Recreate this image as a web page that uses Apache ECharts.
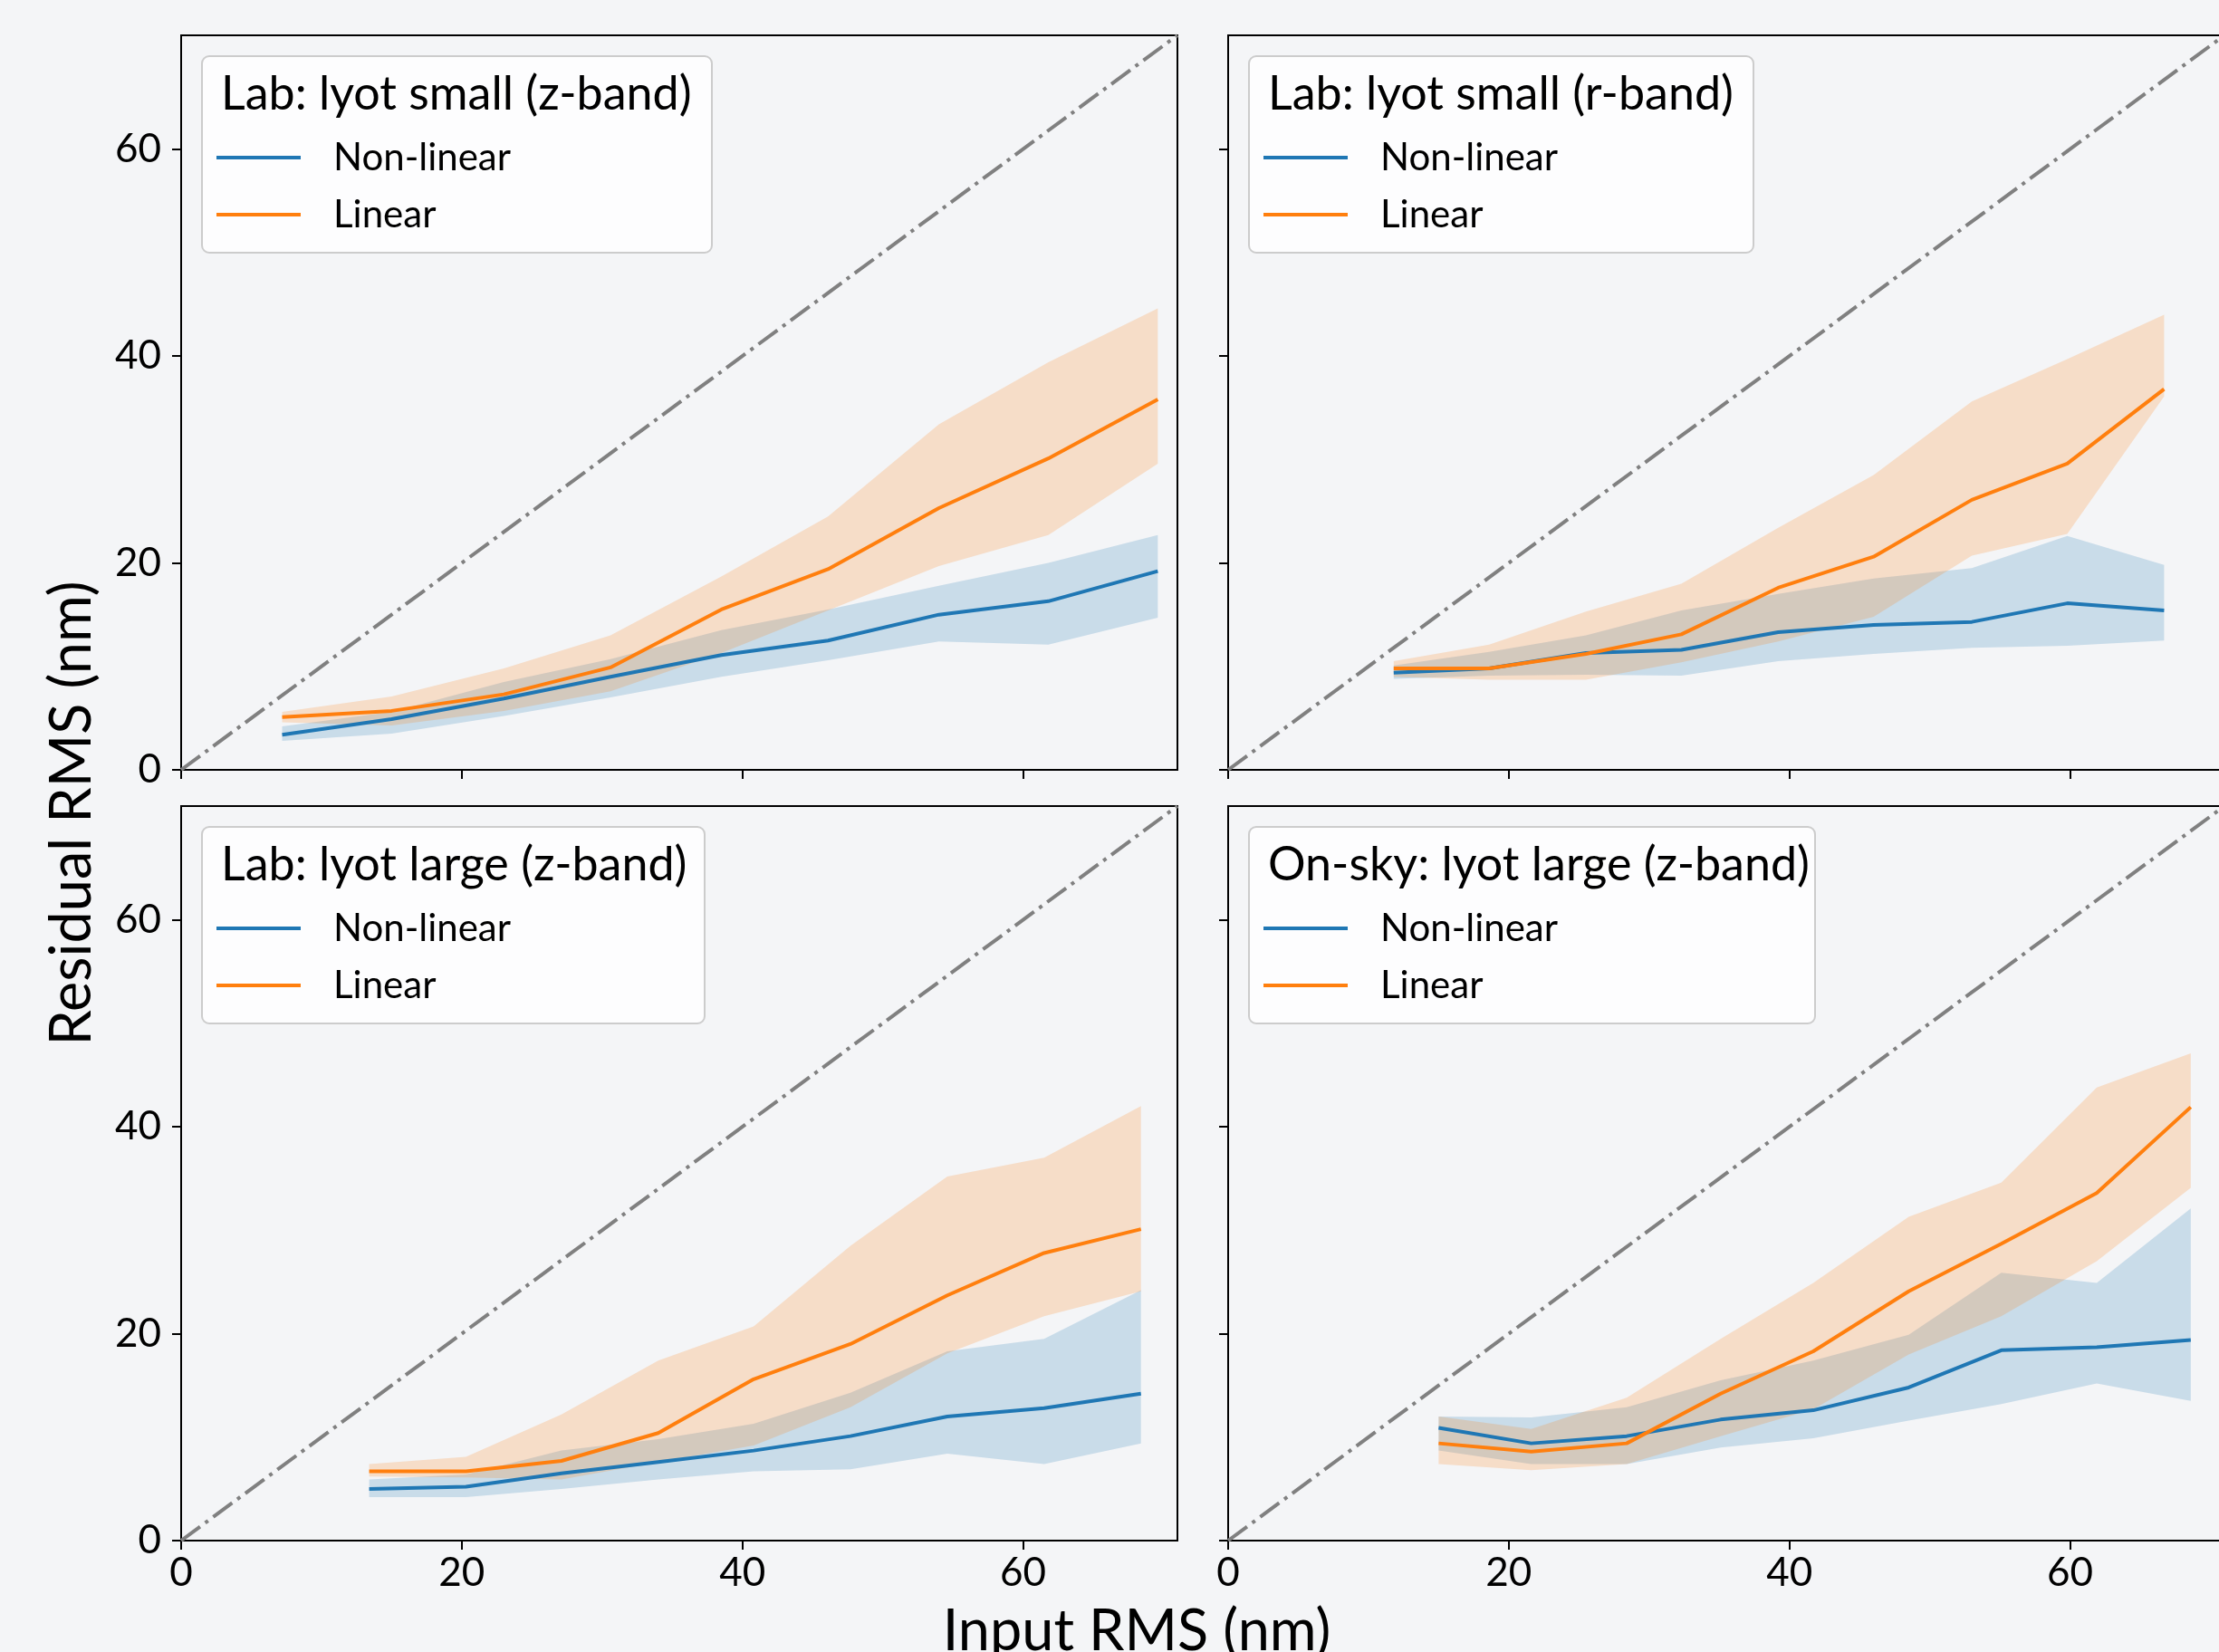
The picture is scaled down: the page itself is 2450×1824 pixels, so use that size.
<!DOCTYPE html>
<html>
<head>
<meta charset="utf-8">
<script src="https://cdn.jsdelivr.net/npm/echarts@6/dist/echarts.min.js"></script>
<style>
  html, body { margin: 0; padding: 0; background: #f4f5f7; }
  #chart { width: 2450px; height: 1824px; }
</style>
</head>
<body>
<div id="chart"></div>
<script>
// ---- data (nm) ----
const tickValues = [0, 20, 40, 60];
const panelTitles = ['Lab: lyot small (z-band)', 'Lab: lyot small (r-band)', 'Lab: lyot large (z-band)', 'On-sky: lyot large (z-band)'];
const seriesNames = ['Non-linear', 'Linear'];

// top left
const xA = [7.2, 15.0, 23.0, 30.6, 38.5, 46.1, 54.0, 61.8, 69.6];
const nonlinA = [3.4, 4.9, 6.9, 9.0, 11.1, 12.5, 15.0, 16.3, 19.2];
const nonlinA_hi = [4.2, 5.6, 8.5, 10.7, 13.5, 15.5, 17.8, 20.0, 22.7];
const nonlinA_lo = [2.8, 3.5, 5.2, 7.0, 9.0, 10.6, 12.4, 12.1, 14.7];
const linA = [5.1, 5.7, 7.3, 9.9, 15.5, 19.4, 25.3, 30.1, 35.8];
const linA_hi = [5.6, 7.1, 9.8, 13.0, 18.7, 24.5, 33.4, 39.4, 44.6];
const linA_lo = [4.6, 4.3, 5.7, 7.6, 11.3, 15.4, 19.7, 22.7, 29.6];

// top right
const xB = [11.8, 18.6, 25.5, 32.3, 39.2, 46.0, 53.0, 59.8, 66.7];
const nonlinB = [9.4, 9.8, 11.3, 11.6, 13.3, 14.0, 14.3, 16.1, 15.4];
const nonlinB_hi = [10.1, 11.4, 13.0, 15.4, 17.0, 18.5, 19.5, 22.6, 19.8];
const nonlinB_lo = [8.8, 9.1, 9.2, 9.1, 10.5, 11.2, 11.8, 12.0, 12.5];
const linB = [9.8, 9.8, 11.2, 13.1, 17.6, 20.6, 26.1, 29.6, 36.8];
const linB_hi = [10.5, 12.1, 15.3, 18.0, 23.4, 28.5, 35.6, 39.7, 44.0];
const linB_lo = [9.0, 8.7, 8.7, 10.4, 12.4, 14.8, 20.7, 22.8, 36.1];

// bottom left
const xC = [13.4, 20.3, 27.1, 34.0, 40.8, 47.7, 54.6, 61.5, 68.4];
const nonlinC = [5.0, 5.2, 6.5, 7.6, 8.7, 10.1, 12.0, 12.8, 14.2];
const nonlinC_hi = [5.9, 6.4, 8.7, 9.8, 11.3, 14.3, 18.3, 19.5, 24.2];
const nonlinC_lo = [4.2, 4.2, 5.0, 5.9, 6.7, 6.9, 8.4, 7.4, 9.4];
const linC = [6.7, 6.7, 7.7, 10.4, 15.6, 19.0, 23.7, 27.8, 30.1];
const linC_hi = [7.4, 8.1, 12.2, 17.4, 20.7, 28.5, 35.2, 37.0, 42.0];
const linC_lo = [6.2, 6.1, 5.9, 7.6, 9.2, 12.9, 18.1, 21.7, 24.1];

// bottom right
const xD = [15.0, 21.6, 28.4, 35.1, 41.7, 48.5, 55.1, 61.9, 68.6];
const nonlinD = [10.9, 9.4, 10.1, 11.7, 12.6, 14.8, 18.4, 18.7, 19.4];
const nonlinD_hi = [12.0, 11.9, 12.9, 15.5, 17.4, 19.9, 25.9, 24.9, 32.1];
const nonlinD_lo = [8.7, 7.4, 7.4, 9.0, 9.9, 11.6, 13.2, 15.2, 13.5];
const linD = [9.4, 8.6, 9.4, 14.2, 18.3, 24.1, 28.7, 33.6, 41.9];
const linD_hi = [12.0, 10.8, 13.8, 19.5, 24.9, 31.3, 34.6, 43.8, 47.1];
const linD_lo = [7.4, 6.8, 7.4, 10.1, 12.7, 18.0, 21.7, 27.0, 34.1];

const panels = [
  {x: xA, nl: nonlinA, nlHi: nonlinA_hi, nlLo: nonlinA_lo, lin: linA, linHi: linA_hi, linLo: linA_lo},
  {x: xB, nl: nonlinB, nlHi: nonlinB_hi, nlLo: nonlinB_lo, lin: linB, linHi: linB_hi, linLo: linB_lo},
  {x: xC, nl: nonlinC, nlHi: nonlinC_hi, nlLo: nonlinC_lo, lin: linC, linHi: linC_hi, linLo: linC_lo},
  {x: xD, nl: nonlinD, nlHi: nonlinD_hi, nlLo: nonlinD_lo, lin: linD, linHi: linD_hi, linLo: linD_lo}
];

const axisMax = 71;
const font = 'Lato';
const bg = '#f4f5f7';
const blue = '#1f77b4';
const orange = '#ff7f0e';

// layout of the 2x2 grid
const gridPos = [
  {left: 200, top: 39},
  {left: 1356, top: 39},
  {left: 200, top: 890},
  {left: 1356, top: 890}
];
const gridW = 1100, gridH = 811;
const legendBoxW = [563, 557, 555, 625];

function bandSeries(gi, xs, lo, hi, color) {
  return {
    type: 'custom',
    xAxisIndex: gi,
    yAxisIndex: gi,
    silent: true,
    z: 1,
    data: xs.map((x, k) => [x, lo[k], hi[k]]),
    encode: {x: 0, y: [1, 2]},
    renderItem: function (params, api) {
      if (params.dataIndex !== 0) return;
      const pts = [];
      for (let k = 0; k < xs.length; k++) pts.push(api.coord([xs[k], hi[k]]));
      for (let k = xs.length - 1; k >= 0; k--) pts.push(api.coord([xs[k], lo[k]]));
      return {type: 'polygon', shape: {points: pts}, style: {fill: color, opacity: 0.2}};
    }
  };
}

function lineSeries(gi, name, xs, ys, color) {
  return {
    name: name,
    type: 'line',
    xAxisIndex: gi,
    yAxisIndex: gi,
    data: xs.map((x, k) => [x, ys[k]]),
    showSymbol: false,
    symbol: 'none',
    silent: true,
    z: 3,
    lineStyle: {color: color, width: 4},
    itemStyle: {color: color}
  };
}

const grid = [], xAxis = [], yAxis = [], series = [], legend = [], graphic = [];

panels.forEach((p, gi) => {
  const g = gridPos[gi];
  const isBottom = gi >= 2;
  const isLeft = gi % 2 === 0;
  grid.push({
    left: g.left, top: g.top, width: gridW, height: gridH,
    show: true, backgroundColor: bg, borderColor: '#000', borderWidth: 2,
    outerBoundsMode: 'none', containLabel: false
  });
  xAxis.push({
    type: 'value', gridIndex: gi, min: 0, max: axisMax, interval: 20,
    axisLine: {show: false},
    axisTick: {show: true, length: 10, customValues: tickValues, lineStyle: {color: '#000', width: 2}},
    axisLabel: {show: isBottom, customValues: tickValues, fontSize: 44, fontFamily: font, color: '#000', margin: 14},
    splitLine: {show: false}
  });
  yAxis.push({
    type: 'value', gridIndex: gi, min: 0, max: axisMax, interval: 20,
    axisLine: {show: false},
    axisTick: {show: true, length: 10, customValues: tickValues, lineStyle: {color: '#000', width: 2}},
    axisLabel: {show: isLeft, customValues: tickValues, fontSize: 44, fontFamily: font, color: '#000', margin: 22},
    splitLine: {show: false}
  });

  series.push(bandSeries(gi, p.x, p.nlLo, p.nlHi, blue));
  series.push(bandSeries(gi, p.x, p.linLo, p.linHi, orange));
  series.push({
    type: 'line', xAxisIndex: gi, yAxisIndex: gi, silent: true, z: 3,
    data: [[0, 0], [axisMax, axisMax]],
    symbol: 'none',
    lineStyle: {color: '#808080', width: 4, type: [26, 7, 4, 7]}
  });
  series.push(lineSeries(gi, seriesNames[0], p.x, p.nl, blue));
  series.push(lineSeries(gi, seriesNames[1], p.x, p.lin, orange));

  // legend frame + title
  graphic.push({
    type: 'rect', z: 5, silent: true,
    shape: {x: g.left + 23, y: g.top + 23, width: legendBoxW[gi], height: 217, r: 8},
    style: {fill: 'rgba(255,255,255,0.8)', stroke: '#cccccc', lineWidth: 2}
  });
  graphic.push({
    type: 'text', z: 11, silent: true,
    x: g.left + 44, y: g.top + 65,
    style: {text: panelTitles[gi], font: '52px ' + font, fill: '#000', textAlign: 'left', textVerticalAlign: 'middle'}
  });
  legend.push({
    orient: 'vertical', left: g.left + 39, top: g.top + 110, padding: 0,
    data: seriesNames, icon: 'rect', itemWidth: 93, itemHeight: 4, itemGap: 13,
    selectedMode: false, z: 10,
    textStyle: {fontSize: 42, fontFamily: font, color: '#000', lineHeight: 50, padding: [0, 0, 0, 31]}
  });
});

// shared axis titles
graphic.push({
  type: 'text', z: 11, silent: true,
  x: 1255, y: 1802,
  style: {text: 'Input RMS (nm)', font: '63px ' + font, fill: '#000', textAlign: 'center', textVerticalAlign: 'middle'}
});
graphic.push({
  type: 'text', z: 11, silent: true,
  x: 80, y: 898, rotation: Math.PI / 2,
  style: {text: 'Residual RMS (nm)', font: '63px ' + font, fill: '#000', textAlign: 'center', textVerticalAlign: 'middle'}
});

const chart = echarts.init(document.getElementById('chart'), null, {renderer: 'canvas'});
chart.setOption({
  backgroundColor: bg,
  animation: false,
  grid: grid,
  xAxis: xAxis,
  yAxis: yAxis,
  legend: legend,
  graphic: graphic,
  series: series
});
</script>
</body>
</html>
